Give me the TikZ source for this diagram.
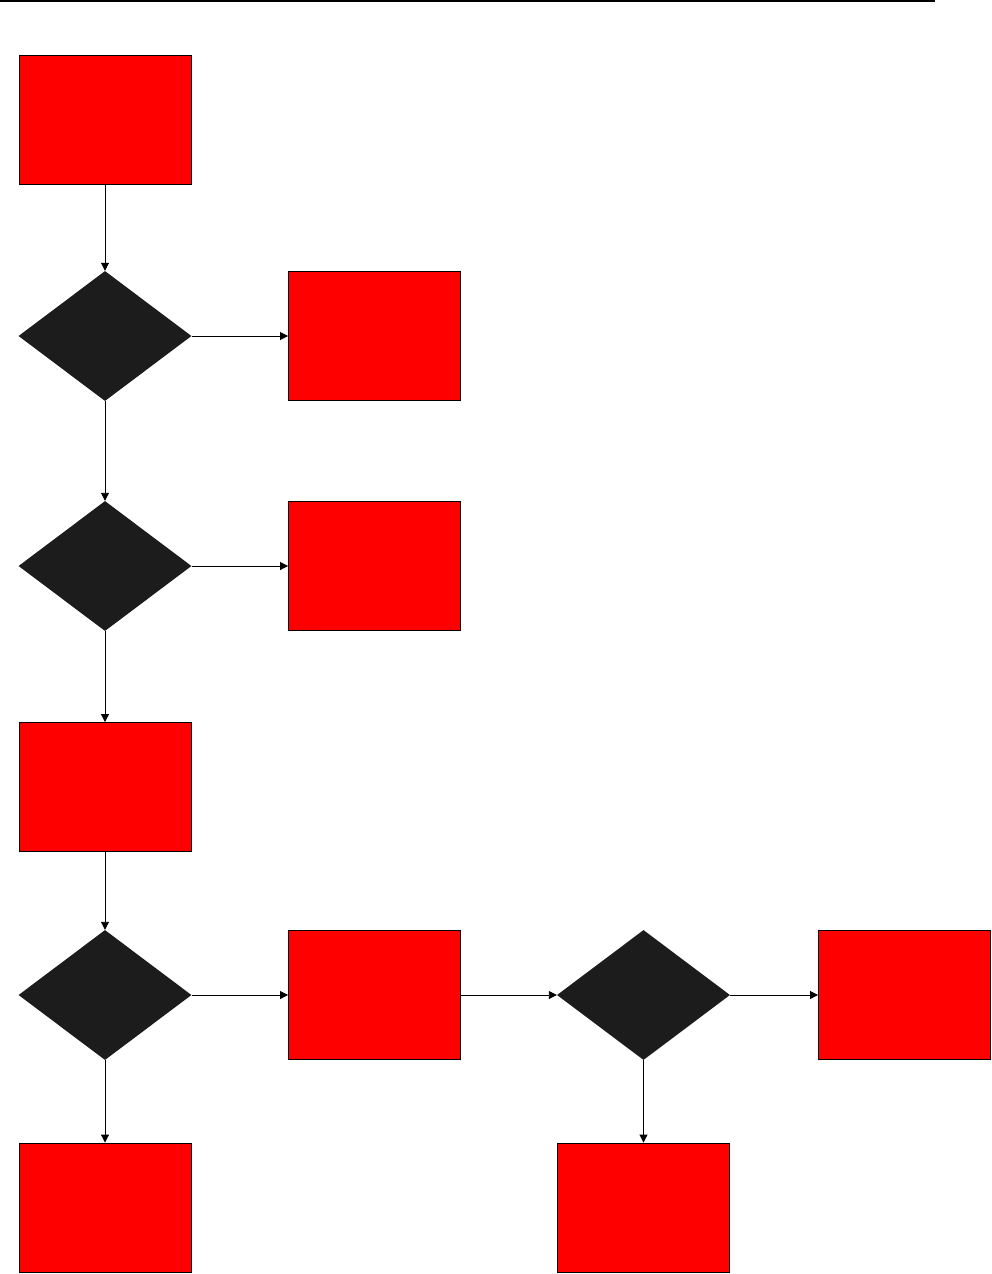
\documentclass[tikz,border=0pt]{standalone}
\usepackage{tikz}
\usetikzlibrary{arrows.meta,shapes.geometric}
\definecolor{boxfill}{RGB}{255,0,0}
\definecolor{decfill}{RGB}{28,28,28}
\definecolor{linecolor}{RGB}{0,0,0}

\begin{document}
\begin{tikzpicture}[x=1pt,y=-1pt,>={Triangle[length=8pt,width=8pt]},
  redbox/.style={draw=linecolor,fill=boxfill,line width=0.9pt,
    minimum width=172pt,minimum height=129pt,inner sep=0pt},
  decision/.style={diamond,fill=decfill,minimum width=173pt,
    minimum height=130pt,inner sep=0pt},
  flow/.style={linecolor,line width=0.9pt,->}]
  % --- page frame ---
  \useasboundingbox (0,0) rectangle (992,1274);
  \draw[linecolor,line width=1.3pt] (0,1) -- (935,1);

  % --- left column ---
  \node[redbox] (start) at (105,119.5) {};
  \node[decision] (dec1) at (105,336) {};
  \node[decision] (dec2) at (105,566) {};
  \node[redbox] (box4) at (105,787) {};
  \node[decision] (dec3) at (105,995) {};
  \node[redbox] (box7) at (105,1207.5) {};

  % --- second column ---
  \node[redbox] (box2) at (374.5,336) {};
  \node[redbox] (box3) at (374.5,566) {};
  \node[redbox] (box5) at (374.5,995) {};

  % --- right part ---
  \node[decision] (dec4) at (643.5,995) {};
  \node[redbox] (box6) at (904.5,995) {};
  \node[redbox] (box8) at (643.5,1207.5) {};

  % --- connectors ---
  \draw[flow] (start) -- (dec1);
  \draw[flow] (dec1) -- (box2);
  \draw[flow] (dec1) -- (dec2);
  \draw[flow] (dec2) -- (box3);
  \draw[flow] (dec2) -- (box4);
  \draw[flow] (box4) -- (dec3);
  \draw[flow] (dec3) -- (box5);
  \draw[flow] (dec3) -- (box7);
  \draw[flow] (box5) -- (dec4);
  \draw[flow] (dec4) -- (box6);
  \draw[flow] (dec4) -- (box8);

\end{tikzpicture}
\end{document}
